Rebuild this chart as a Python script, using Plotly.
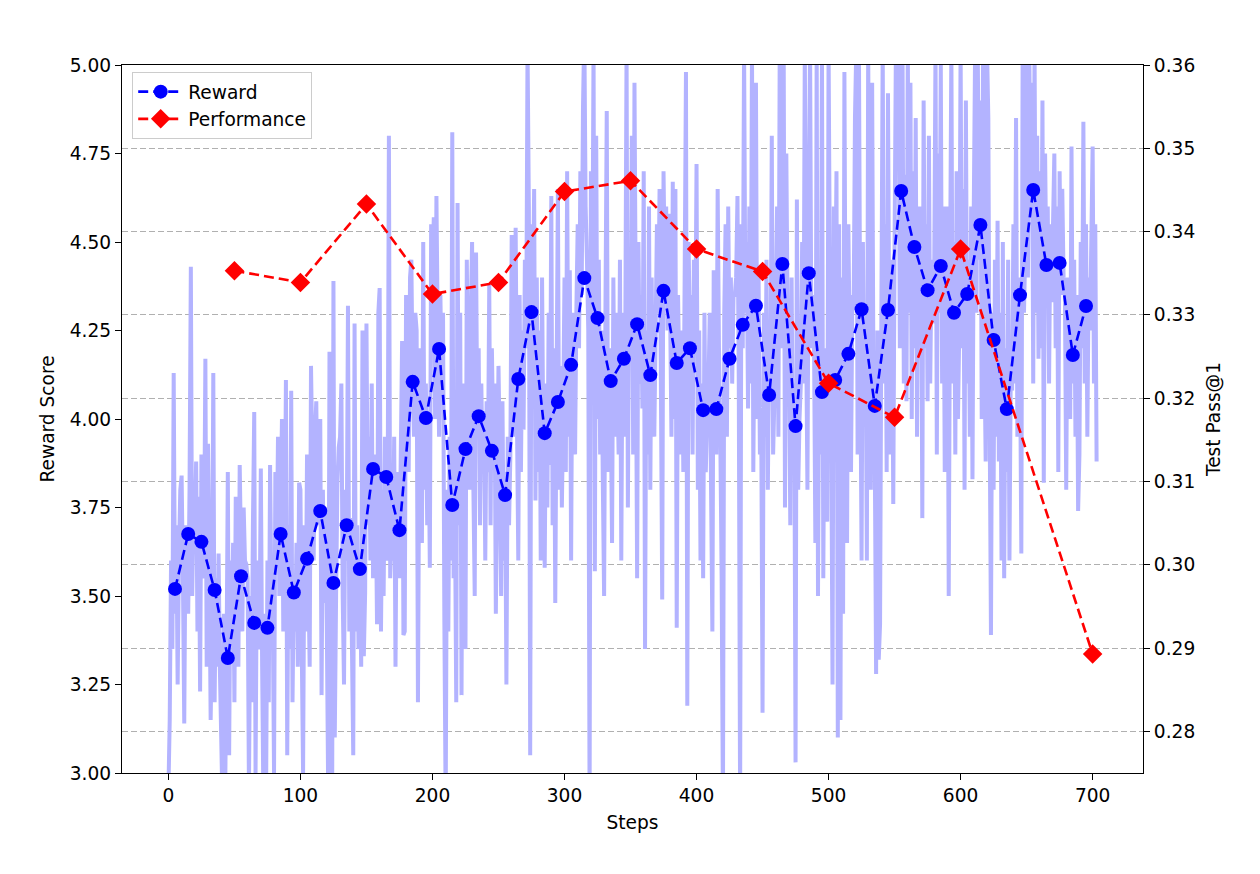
import plotly.graph_objects as go

# Raw per-step reward (steps 0..703)
raw_reward = [
    2.95, 3.15, 3.60, 3.35, 4.13, 3.45, 3.70, 3.25, 3.62, 3.80,
    3.84, 3.55, 3.14, 3.70, 3.60, 3.45, 3.80, 4.43, 3.50, 3.74,
    3.70, 3.88, 3.40, 3.78, 3.23, 3.90, 3.55, 3.62, 4.17, 3.30,
    3.93, 3.60, 3.15, 3.40, 4.13, 3.20, 3.55, 3.30, 3.62, 3.29,
    3.10, 2.90, 3.45, 2.95, 3.30, 3.85, 3.05, 3.60, 3.40, 3.65,
    3.20, 3.78, 3.45, 3.30, 3.87, 3.62, 3.40, 3.75, 3.60, 3.59,
    3.55, 2.95, 3.50, 3.20, 3.70, 4.02, 3.00, 3.60, 3.35, 3.37,
    3.86, 3.30, 2.90, 3.45, 2.95, 3.60, 3.20, 3.87, 3.50, 3.47,
    3.00, 3.85, 3.60, 3.95, 3.50, 3.75, 4.00, 3.40, 3.59, 4.11,
    3.05, 3.70, 3.35, 4.08, 3.20, 3.55, 3.40, 3.65, 3.30, 3.82,
    3.80, 3.35, 3.00, 3.70, 3.40, 3.90, 3.55, 3.30, 4.15, 3.90,
    3.60, 3.95, 4.05, 3.70, 3.85, 4.00, 3.22, 3.80, 3.48, 3.75,
    3.40, 2.95, 4.19, 3.20, 2.90, 4.39, 3.10, 3.50, 3.82, 3.92,
    3.95, 4.10, 3.50, 3.25, 3.80, 3.60, 4.32, 3.40, 3.72, 3.36,
    3.05, 4.27, 3.40, 3.70, 3.35, 3.60, 3.30, 4.25, 3.33, 3.51,
    4.27, 3.70, 3.95, 3.60, 4.10, 3.55, 3.90, 3.80, 3.42, 4.30,
    4.37, 3.40, 3.80, 3.50, 3.95, 3.60, 3.70, 4.80, 3.55, 3.69,
    3.60, 3.95, 3.30, 3.85, 3.70, 3.55, 3.90, 4.22, 3.39, 3.40,
    4.35, 4.20, 3.85, 4.40, 4.45, 4.10, 3.95, 4.30, 4.25, 3.20,
    3.95, 4.20, 3.65, 4.50, 3.80, 4.10, 3.70, 4.00, 3.58, 4.55,
    4.40, 4.57, 4.00, 4.63, 4.25, 3.95, 4.35, 4.10, 4.30, 3.43,
    2.90, 3.80, 3.40, 3.95, 3.60, 4.81, 3.55, 3.75, 3.20, 4.61,
    3.70, 4.30, 3.22, 4.10, 3.90, 3.35, 4.45, 4.05, 3.80, 4.28,
    4.50, 3.80, 3.50, 4.47, 3.95, 4.20, 3.70, 4.10, 3.85, 4.01,
    3.60, 4.05, 3.85, 4.38, 3.70, 4.20, 3.95, 4.10, 3.45, 3.82,
    4.15, 3.90, 3.50, 4.05, 3.60, 3.85, 3.25, 3.95, 3.70, 3.90,
    4.52, 3.95, 4.10, 4.54, 4.00, 3.60, 4.35, 3.85, 4.25, 3.97,
    4.45, 4.20, 5.05, 4.60, 3.05, 4.55, 4.30, 4.65, 3.77, 4.40,
    3.85, 4.25, 3.60, 4.40, 3.90, 3.58, 4.10, 3.75, 4.30, 3.87,
    4.63, 3.70, 4.20, 3.48, 4.10, 4.65, 3.80, 4.15, 3.75, 4.02,
    4.40, 3.85, 4.70, 3.95, 4.42, 3.60, 4.30, 4.10, 3.90, 4.31,
    4.55, 4.20, 4.70, 4.35, 4.88, 5.10, 4.60, 4.45, 4.25, 2.90,
    4.70, 4.30, 5.05, 3.57, 4.80, 4.00, 4.45, 3.90, 4.25, 3.83,
    3.50, 4.30, 4.87, 3.85, 4.20, 4.05, 3.65, 4.40, 3.95, 4.30,
    4.10, 3.90, 4.45, 3.60, 4.30, 3.95, 4.20, 5.05, 3.75, 4.40,
    4.20, 4.80, 3.90, 4.95, 4.30, 3.55, 4.50, 4.10, 4.35, 4.03,
    4.70, 3.35, 4.25, 3.90, 4.60, 3.80, 4.40, 4.05, 3.95, 4.24,
    4.55, 4.30, 4.65, 4.10, 3.49, 4.70, 4.40, 4.60, 4.25, 4.58,
    4.30, 3.95, 4.67, 4.00, 4.65, 3.41, 4.35, 4.10, 3.90, 4.25,
    3.85, 4.40, 4.98, 3.19, 4.50, 4.20, 4.35, 3.90, 4.45, 4.18,
    4.72, 3.80, 4.25, 3.60, 4.10, 3.55, 4.30, 3.85, 4.00, 4.08,
    4.30, 3.80, 3.40, 4.42, 4.10, 3.90, 4.65, 4.20, 3.95, 3.56,
    2.90, 4.30, 4.55, 3.95, 4.60, 4.20, 4.40, 4.10, 4.35, 4.35,
    4.40, 4.63, 4.10, 2.90, 4.55, 4.20, 5.05, 4.30, 4.50, 4.03,
    4.60, 4.10, 5.05, 3.85, 4.35, 4.95, 4.00, 4.40, 3.90, 4.00,
    3.17, 4.30, 3.95, 4.45, 3.80, 4.20, 4.05, 4.80, 3.90, 4.06,
    4.30, 4.60, 3.95, 5.05, 4.45, 4.20, 5.05, 3.75, 4.75, 4.28,
    4.20, 3.70, 4.40, 3.85, 4.10, 3.03, 4.62, 3.80, 4.00, 4.10,
    4.50, 4.10, 5.05, 4.25, 3.80, 4.60, 5.05, 4.20, 4.35, 4.22,
    3.65, 5.05, 3.50, 4.30, 3.90, 5.05, 3.55, 4.20, 3.85, 3.71,
    5.05, 4.40, 4.00, 3.25, 4.60, 4.30, 4.70, 3.10, 4.55, 3.15,
    4.40, 3.45, 4.98, 4.10, 3.65, 4.55, 4.20, 3.85, 4.35, 4.31,
    4.85, 5.05, 3.90, 5.05, 4.20, 3.60, 4.50, 4.05, 4.30, 3.60,
    5.05, 4.30, 3.80, 4.95, 4.10, 3.90, 3.28, 4.25, 3.32, 3.42,
    4.30, 5.05, 4.10, 4.55, 3.85, 4.92, 4.20, 3.90, 4.45, 3.76,
    4.50, 5.05, 4.80, 5.05, 4.20, 4.95, 5.05, 4.10, 4.69, 4.05,
    5.05, 4.30, 4.95, 4.00, 4.70, 4.20, 4.85, 3.95, 4.60, 4.26,
    4.60, 3.72, 4.90, 4.20, 4.55, 4.05, 4.80, 4.10, 4.45, 4.27,
    4.40, 5.05, 3.90, 4.75, 4.30, 5.00, 4.10, 4.60, 3.85, 4.37,
    4.60, 3.50, 4.40, 5.05, 4.10, 4.50, 3.90, 4.70, 4.00, 4.25,
    5.05, 4.20, 4.65, 3.80, 4.90, 4.10, 4.45, 3.95, 4.60, 3.83,
    4.60, 5.05, 4.30, 5.05, 4.45, 4.90, 4.00, 5.05, 4.20, 3.88,
    5.05, 4.85, 4.00, 3.39, 4.30, 3.80, 4.45, 3.95, 4.56, 3.88,
    4.30, 3.60, 4.50, 3.55, 4.20, 3.85, 4.45, 3.60, 4.15, 4.08,
    4.55, 4.10, 4.85, 3.95, 4.40, 4.20, 3.62, 5.05, 4.30, 4.48,
    5.05, 4.40, 5.05, 4.60, 4.95, 4.10, 5.05, 4.30, 4.80, 4.17,
    4.70, 4.20, 4.90, 3.82, 4.75, 4.40, 4.60, 4.10, 4.55, 4.33,
    4.55, 4.75, 4.20, 4.60, 3.85, 4.70, 4.35, 4.65, 4.40, 4.36,
    3.80, 4.40, 4.25, 4.00, 4.77, 4.10, 4.45, 3.95, 4.35, 3.74,
    3.90, 4.50, 4.20, 4.84, 4.10, 4.55, 3.95, 4.40, 4.25, 4.50,
    4.77, 4.10, 4.55, 3.88,
]
raw_steps = list(range(len(raw_reward)))

# 10-step averaged reward (markers)
avg_steps = list(range(5, 700, 10))
avg_reward = [
    3.52, 3.675, 3.653, 3.517, 3.325, 3.556, 3.424, 3.41, 3.675, 3.51,
    3.605, 3.74, 3.537, 3.70, 3.576, 3.859, 3.836, 3.686, 4.105, 4.003,
    4.198, 3.757, 3.915, 4.008, 3.91, 3.785, 4.113, 4.302, 3.96, 4.048,
    4.153, 4.398, 4.285, 4.107, 4.17, 4.268, 4.124, 4.362, 4.158, 4.20,
    4.025, 4.028, 4.17, 4.266, 4.32, 4.068, 4.438, 3.98, 4.412, 4.076,
    4.11, 4.184, 4.31, 4.037, 4.308, 4.644, 4.486, 4.364, 4.432, 4.30,
    4.353, 4.548, 4.223, 4.028, 4.35, 4.647, 4.435, 4.441, 4.181, 4.319,
]

# Test Pass@1 (right axis)
perf_steps = [50, 100, 150, 200, 250, 300, 350, 400, 450, 500, 550, 600, 700]
perf_values = [0.3353, 0.3339, 0.3433, 0.3325, 0.3339, 0.3448, 0.3461,
               0.3379, 0.3352, 0.3218, 0.3177, 0.3379, 0.2893]

left_ticks = [3.00, 3.25, 3.50, 3.75, 4.00, 4.25, 4.50, 4.75, 5.00]
right_ticks = [0.28, 0.29, 0.30, 0.31, 0.32, 0.33, 0.34, 0.35, 0.36]
x_ticks = [0, 100, 200, 300, 400, 500, 600, 700]

FONT = "DejaVu Sans"
FS = 18.6

fig = go.Figure()

fig.add_trace(go.Scatter(
    x=raw_steps, y=raw_reward, mode="lines",
    line=dict(color="#b3b3ff", width=4, simplify=False),
    showlegend=False, hoverinfo="skip", yaxis="y",
))
fig.add_trace(go.Scatter(
    x=avg_steps, y=avg_reward, mode="lines+markers", name="Reward",
    line=dict(color="#0000ff", width=2.6, dash="10px,5px"),
    marker=dict(color="#0000ff", size=14, symbol="circle"),
    yaxis="y",
))
fig.add_trace(go.Scatter(
    x=perf_steps, y=perf_values, mode="lines+markers", name="Performance",
    line=dict(color="#ff0000", width=2.6, dash="10px,5px"),
    marker=dict(color="#ff0000", size=15, symbol="diamond"),
    yaxis="y2",
))

axis_common = dict(
    showline=True, linecolor="black", linewidth=1.3,
    ticks="outside", ticklen=6, tickwidth=1.3, tickcolor="black",
    tickfont=dict(family=FONT, size=FS, color="black"),
    zeroline=False,
)

fig.update_layout(
    width=1252, height=866, autosize=False,
    margin=dict(l=114, r=117, t=57, b=101),
    paper_bgcolor="white", plot_bgcolor="white",
    font=dict(family=FONT, size=FS, color="black"),
    xaxis=dict(
        range=[-35.15, 738.15], tickvals=x_ticks, mirror=True,
        showgrid=False,
        title=dict(text="Steps", font=dict(family=FONT, size=FS), standoff=10),
        **axis_common,
    ),
    yaxis=dict(
        range=[3.0, 5.0], tickvals=left_ticks, tickformat=".2f",
        showgrid=False,
        title=dict(text="Reward Score", font=dict(family=FONT, size=FS), standoff=10),
        **axis_common,
    ),
    yaxis2=dict(
        range=[0.2750, 0.36], tickvals=right_ticks, tickformat=".2f",
        overlaying="y", side="right",
        showgrid=True, gridcolor="#b0b0b0", gridwidth=1, griddash="6px,3px",
        title=dict(text="Test Pass@1", font=dict(family=FONT, size=FS), standoff=12),
        **axis_common,
    ),
    legend=dict(
        x=0.01, y=0.99, xanchor="left", yanchor="top",
        bgcolor="rgba(255,255,255,0.8)", bordercolor="#cccccc", borderwidth=1,
        font=dict(family=FONT, size=FS, color="black"),
        tracegroupgap=0, itemwidth=45,
    ),
)

fig.write_html("out.html")
